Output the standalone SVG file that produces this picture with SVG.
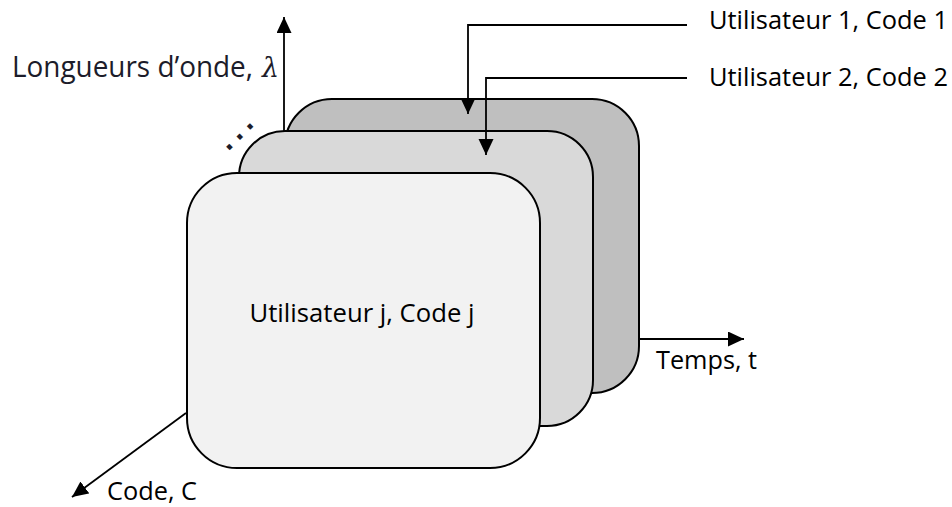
<svg xmlns="http://www.w3.org/2000/svg" width="952" height="507" viewBox="0 0 952 507">
  <style>
    .card { stroke: #000; stroke-width: 2; }
    .back { fill: #bfbfbf; }
    .mid { fill: #d9d9d9; }
    .front { fill: #f2f2f2; }
    .lbl { font-family: "Open Sans", "Noto Sans", "Liberation Sans", sans-serif; font-size: 25.6px; fill: #000; }
    .axis-lbl { font-family: "Open Sans", "Noto Sans", "Liberation Sans", sans-serif; font-size: 29px; fill: #1c1c2a; }
    .greek { font-family: "DejaVu Serif", "Liberation Serif", serif; font-style: italic; font-size: 27px; fill: #1c1c2a; }
    .wire { fill: none; stroke: #000; stroke-width: 1.8; }
  </style>
  <defs>
    <marker id="head" markerUnits="userSpaceOnUse" markerWidth="17" markerHeight="16" refX="16" refY="7.5" orient="auto">
      <path d="M0,0 L16,7.5 L0,15 z" fill="#000"/>
    </marker>
  </defs>

  <rect width="952" height="507" fill="#fff"/>

  <!-- stacked user/code planes, back to front -->
  <g id="plane-user1">
    <rect class="card back" x="285" y="99" width="354" height="294" rx="47" ry="47"/>
  </g>
  <g id="plane-user2">
    <rect class="card mid" x="239" y="131" width="354" height="295" rx="46" ry="46"/>
  </g>
  <g id="plane-userj">
    <rect class="card front" x="187" y="173" width="353" height="295" rx="50" ry="50"/>
    <text class="lbl" x="362" y="322" text-anchor="middle" textLength="225" lengthAdjust="spacingAndGlyphs">Utilisateur j, Code j</text>
  </g>

  <!-- axes and callouts -->
  <g id="connectors">
    <line class="wire" x1="284" y1="131" x2="284" y2="17" marker-end="url(#head)"/>
    <line class="wire" x1="639" y1="339" x2="744" y2="339" marker-end="url(#head)"/>
    <line class="wire" x1="186" y1="413" x2="72" y2="497" marker-end="url(#head)"/>
    <polyline class="wire" points="687,25 468,25 468,114" marker-end="url(#head)"/>
    <polyline class="wire" points="687,78 486,78 486,155" marker-end="url(#head)"/>
  </g>

  <!-- axis and callout labels -->
  <g id="labels">
    <text class="axis-lbl" x="12" y="77" textLength="241" lengthAdjust="spacingAndGlyphs">Longueurs d’onde,</text>
    <text class="greek" x="262" y="77">λ</text>
    <text font-family="'Liberation Sans', sans-serif" font-size="46" fill="#1c1c2a" x="240" y="139" text-anchor="middle" transform="rotate(-45 240 137)">…</text>
    <text class="lbl" x="709" y="29" textLength="239" lengthAdjust="spacingAndGlyphs">Utilisateur 1, Code 1</text>
    <text class="lbl" x="709" y="86" textLength="239" lengthAdjust="spacingAndGlyphs">Utilisateur 2, Code 2</text>
    <text class="lbl" x="656" y="369" textLength="101" lengthAdjust="spacingAndGlyphs">Temps, t</text>
    <text class="lbl" x="107" y="500" textLength="90" lengthAdjust="spacingAndGlyphs">Code, C</text>
  </g>
</svg>
